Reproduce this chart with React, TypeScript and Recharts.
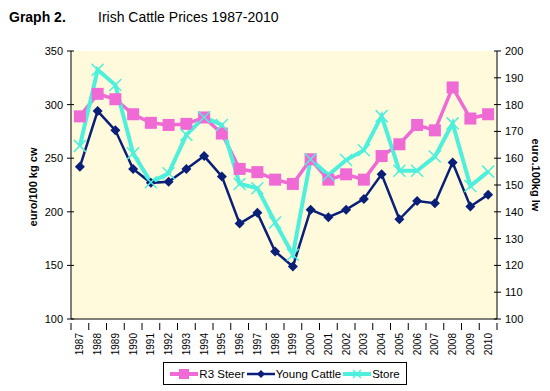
import { LineChart, Line, XAxis, YAxis, CartesianGrid } from "recharts";

const years = [
  "1987", "1988", "1989", "1990", "1991", "1992", "1993", "1994", "1995", "1996", "1997", "1998",
  "1999", "2000", "2001", "2002", "2003", "2004", "2005", "2006", "2007", "2008", "2009", "2010",
];

// euro/100 kg cw (left axis)
const r3Steer = [289, 310, 305, 291, 283, 281, 282, 288, 273, 240, 237, 230, 226, 249, 230, 235, 230, 252, 263, 281, 276, 316, 287, 291];
const youngCattle = [242, 294, 276, 240, 227, 228, 240, 252, 233, 189, 199, 163, 149, 202, 195, 202, 212, 235, 193, 210, 208, 246, 205, 216];
// euro/100kg lw (right axis)
const store = [164.6, 193, 187.3, 161.8, 151, 154.4, 168.7, 175.3, 172.4, 150.4, 148.8, 136, 124, 159.6, 153.7, 159.3, 163, 175.7, 155.3, 155.3, 160.6, 173, 149.6, 155];

const leftTicks = [100, 150, 200, 250, 300, 350];
const rightTicks = [100, 110, 120, 130, 140, 150, 160, 170, 180, 190, 200];

const data = years.map((y, i) => ({
  year: y,
  steer: r3Steer[i],
  young: youngCattle[i],
  store: store[i],
}));

const PINK = "#f06ad6";
const NAVY = "#0a1f78";
const CYAN = "#4ef0dc";
const FONT = "Liberation Sans, Arial, sans-serif";
const BAND = 426 / 24;

const SquareDot = (props: any) => {
  const { cx, cy } = props;
  if (cx == null || cy == null) return null;
  return <rect x={cx - 6} y={cy - 6} width={12} height={12} fill={PINK} />;
};

const DiamondDot = (props: any) => {
  const { cx, cy } = props;
  if (cx == null || cy == null) return null;
  return <path d={`M${cx},${cy - 5}L${cx + 5},${cy}L${cx},${cy + 5}L${cx - 5},${cy}Z`} fill={NAVY} />;
};

const CrossDot = (props: any) => {
  const { cx, cy } = props;
  if (cx == null || cy == null) return null;
  return (
    <path
      d={`M${cx - 6},${cy - 6}L${cx + 6},${cy + 6}M${cx - 6},${cy + 6}L${cx + 6},${cy - 6}`}
      stroke={CYAN}
      strokeWidth={1.5}
    />
  );
};

const XTick = (props: any) => {
  const { x, y, payload, index } = props;
  return (
    <g>
      <line x1={x - BAND / 2} x2={x - BAND / 2} y1={y - 4} y2={y + 3} stroke="#000" />
      {index === years.length - 1 && (
        <line x1={x + BAND / 2} x2={x + BAND / 2} y1={y - 4} y2={y + 3} stroke="#000" />
      )}
      <text
        x={0}
        y={0}
        transform={`translate(${x + 3.5},${y + 6}) rotate(-90)`}
        textAnchor="end"
        fontSize={10}
        fontFamily={FONT}
        fill="#000"
      >
        {payload.value}
      </text>
    </g>
  );
};

const LeftTick = (props: any) => {
  const { y, payload } = props;
  return (
    <g>
      <line x1={67} x2={74} y1={y} y2={y} stroke="#000" />
      <text x={63} y={y + 4} textAnchor="end" fontSize={11} fontFamily={FONT} fill="#000">
        {payload.value}
      </text>
    </g>
  );
};

const RightTick = (props: any) => {
  const { y, payload } = props;
  return (
    <g>
      <line x1={494} x2={501} y1={y} y2={y} stroke="#000" />
      <text x={505} y={y + 4} textAnchor="start" fontSize={11} fontFamily={FONT} fill="#000">
        {payload.value}
      </text>
    </g>
  );
};

const legendItems = [
  { name: "R3 Steer", color: PINK, width: 4, marker: "square" },
  { name: "Young Cattle", color: NAVY, width: 2.5, marker: "diamond" },
  { name: "Store", color: CYAN, width: 4, marker: "cross" },
];

export default function App() {
  return (
    <div style={{ position: "absolute", left: 0, top: 0, width: 550, height: 391, background: "#fff", fontFamily: FONT }}>
      <div style={{ position: "absolute", left: 9, top: 9, fontSize: 14, fontWeight: "bold" }}>Graph 2.</div>
      <div style={{ position: "absolute", left: 98, top: 9, fontSize: 14 }}>Irish Cattle Prices 1987-2010</div>
      <LineChart width={550} height={391} data={data} margin={{ top: 51, right: 0, left: 0, bottom: 0 }}>
        <CartesianGrid fill="#fffadc" stroke="none" horizontal={false} vertical={false} />
        <XAxis
          dataKey="year"
          scale="band"
          interval={0}
          height={72}
          tick={<XTick />}
          tickLine={false}
          axisLine={{ stroke: "#000" }}
        />
        <YAxis
          yAxisId="left"
          domain={[100, 350]}
          ticks={leftTicks}
          width={71}
          tick={<LeftTick />}
          tickLine={false}
          axisLine={{ stroke: "#000" }}
        />
        <YAxis
          yAxisId="right"
          orientation="right"
          domain={[100, 200]}
          ticks={rightTicks}
          width={53}
          tick={<RightTick />}
          tickLine={false}
          axisLine={{ stroke: "#000" }}
        />
        <Line yAxisId="left" dataKey="steer" stroke={PINK} strokeWidth={3.5} dot={<SquareDot />} isAnimationActive={false} />
        <Line yAxisId="left" dataKey="young" stroke={NAVY} strokeWidth={2.5} dot={<DiamondDot />} isAnimationActive={false} />
        <Line yAxisId="right" dataKey="store" stroke={CYAN} strokeWidth={4} dot={<CrossDot />} isAnimationActive={false} />
      </LineChart>
      <div
        style={{
          position: "absolute",
          left: 33,
          top: 187,
          transform: "translate(-50%, -50%) rotate(-90deg)",
          fontSize: 11,
          fontWeight: "bold",
          whiteSpace: "nowrap",
        }}
      >
        euro/100 kg cw
      </div>
      <div
        style={{
          position: "absolute",
          left: 536,
          top: 175,
          transform: "translate(-50%, -50%) rotate(90deg)",
          fontSize: 11,
          fontWeight: "bold",
          whiteSpace: "nowrap",
        }}
      >
        euro.100kg lw
      </div>
      <div
        style={{
          position: "absolute",
          left: 163,
          top: 362,
          width: 244,
          height: 23,
          boxSizing: "border-box",
          border: "1px solid #000",
          display: "flex",
          alignItems: "center",
          justifyContent: "center",
          gap: 2,
          fontSize: 11.5,
          whiteSpace: "nowrap",
        }}
      >
        {legendItems.map((item) => (
          <div key={item.name} style={{ display: "flex", alignItems: "center", gap: 1, whiteSpace: "nowrap" }}>
            <svg width={28} height={12} style={{ flexShrink: 0 }}>
              <line x1={0} x2={28} y1={6} y2={6} stroke={item.color} strokeWidth={item.width} />
              {item.marker === "square" && <rect x={9} y={1} width={10} height={10} fill={item.color} />}
              {item.marker === "diamond" && <path d="M14,2L18,6L14,10L10,6Z" fill={item.color} />}
              {item.marker === "cross" && (
                <path d="M10,2L18,10M10,10L18,2" stroke={item.color} strokeWidth={1.5} />
              )}
            </svg>
            <span>{item.name}</span>
          </div>
        ))}
      </div>
    </div>
  );
}
